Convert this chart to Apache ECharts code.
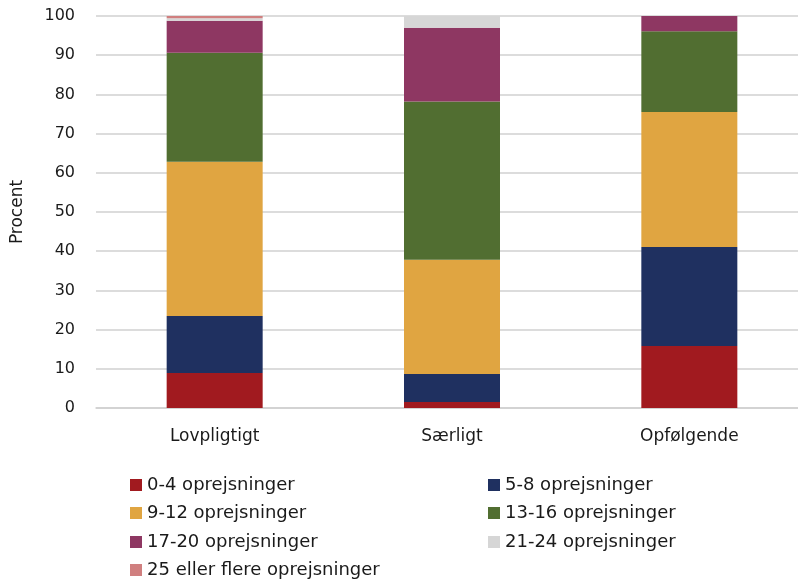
<!DOCTYPE html>
<html>
<head>
<meta charset="utf-8">
<script src="https://cdn.jsdelivr.net/npm/echarts@6/dist/echarts.min.js"></script>
<style>
  html, body { margin: 0; padding: 0; background: #fff; }
  #main { width: 798px; height: 582px; }
</style>
</head>
<body>
<div id="main"></div>
<script>
  // data
  var categories = ['Lovpligtigt', 'Særligt', 'Opfølgende'];
  var names = ['0-4 oprejsninger', '5-8 oprejsninger', '9-12 oprejsninger', '13-16 oprejsninger',
    '17-20 oprejsninger', '21-24 oprejsninger', '25 eller flere oprejsninger'];
  var v0_4 = [8.9, 1.5, 15.8];
  var v5_8 = [14.6, 7.2, 25.3];
  var v9_12 = [39.3, 29.1, 34.4];
  var v13_16 = [27.8, 40.4, 20.6];
  var v17_20 = [8.2, 18.8, 3.9];
  var v21_24 = [0.6, 3.0, 0];
  var v25 = [0.6, 0, 0];
  var seriesData = [v0_4, v5_8, v9_12, v13_16, v17_20, v21_24, v25];
  var colors = ['#A11A1F', '#1F3060', '#E0A541', '#516E31', '#8E3762', '#D6D6D6', '#D07F7F'];

  var font = '"DejaVu Sans", sans-serif';
  var myChart = echarts.init(document.getElementById('main'));

  var series = [];
  for (var i = 0; i < names.length; i++) {
    series.push({
      name: names[i],
      type: 'bar',
      stack: 'total',
      barWidth: 96,
      data: seriesData[i],
      itemStyle: { color: colors[i] }
    });
  }

  // legend laid out in two columns, one legend per item
  var legendLeft = [125, 483];
  var legendTop = [471, 499, 528, 556];
  var legends = names.map(function (n, k) {
    return {
      left: legendLeft[k % 2],
      top: legendTop[Math.floor(k / 2)],
      data: [n],
      itemWidth: 12,
      itemHeight: 12,
      icon: 'rect',
      textStyle: { fontSize: 18, color: '#1a1a1a', fontFamily: font }
    };
  });

  var option = {
    animation: false,
    color: colors,
    grid: { left: 96, width: 712, top: 16, bottom: 174, containLabel: false, outerBoundsMode: 'none' },
    legend: legends,
    xAxis: {
      type: 'category',
      data: categories,
      axisTick: { show: false },
      axisLine: { lineStyle: { color: '#d0d0d0', width: 1.5 } },
      axisLabel: { fontSize: 17, color: '#1a1a1a', fontFamily: font, margin: 20 }
    },
    yAxis: {
      type: 'value',
      min: 0,
      max: 100,
      interval: 10,
      name: 'Procent',
      nameLocation: 'middle',
      nameGap: 70,
      nameTextStyle: { fontSize: 17, color: '#1a1a1a', fontFamily: font },
      axisLabel: { fontSize: 16, color: '#1a1a1a', fontFamily: font, margin: 21 },
      splitLine: { lineStyle: { color: '#d0d0d0', width: 1.5 } },
      axisLine: { show: false },
      axisTick: { show: false }
    },
    series: series
  };
  myChart.setOption(option);
</script>
</body>
</html>
